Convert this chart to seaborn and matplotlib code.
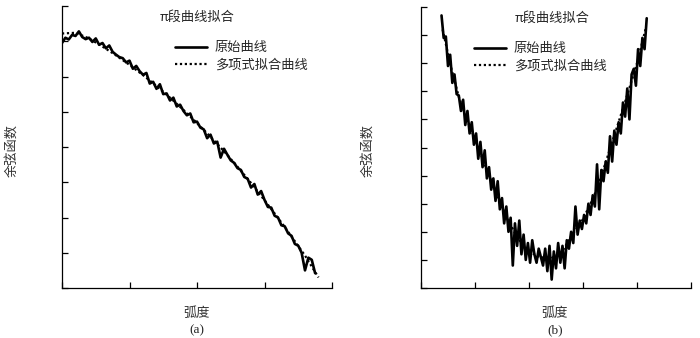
import numpy as np
import pandas as pd
import matplotlib
matplotlib.use("Agg")
import matplotlib.pyplot as plt
import seaborn as sns

# ---------------- data ----------------
title_text = "π段曲线拟合"
legend_raw = "原始曲线"
legend_fit = "多项式拟合曲线"
ylabel_text = "余弦函数"
xlabel_text = "弧度"
panel_labels = ["(a)", "(b)"]

# panel (a)
a_raw_x = np.linspace(0.0, 3.75, 76)
a_raw_y = [6.95, 7.10, 7.05, 7.18, 7.15, 7.28, 7.12, 7.06, 7.10, 6.98,
           7.08, 6.90, 6.95, 6.80, 6.88, 6.70, 6.62, 6.55, 6.52, 6.40,
           6.45, 6.22, 6.30, 6.15, 6.05, 6.10, 5.80, 5.85, 5.65, 5.78,
           5.50, 5.52, 5.32, 5.40, 5.15, 5.20, 5.02, 4.90, 4.95, 4.70,
           4.72, 4.55, 4.50, 4.25, 4.35, 4.10, 4.15, 3.70, 3.95, 3.78,
           3.62, 3.55, 3.40, 3.35, 3.15, 3.10, 2.85, 2.95, 2.65, 2.75,
           2.50, 2.30, 2.28, 2.05, 2.00, 1.78, 1.75, 1.55, 1.48, 1.25,
           1.20, 1.00, 0.50, 0.86, 0.80, 0.42]
a_fit_x = [0.0, 0.2, 0.4, 0.6, 0.8, 1.0, 1.2, 1.4, 1.6, 1.8, 2.0,
           2.2, 2.4, 2.6, 2.8, 3.0, 3.2, 3.4, 3.6, 3.8]
a_fit_y = [7.22, 7.24, 7.08, 6.85, 6.60, 6.33, 6.04, 5.73, 5.40, 5.05, 4.68,
           4.29, 3.88, 3.44, 2.98, 2.49, 1.99, 1.46, 0.92, 0.30]

# panel (b)
b_raw_x = np.linspace(0.38, 4.18, 96)
b_raw_y = [9.7, 8.9, 8.95, 7.9, 8.3, 7.3, 7.6, 6.9, 6.85, 6.3,
           6.7, 5.8, 6.3, 5.5, 5.9, 5.1, 5.5, 4.6, 5.2, 4.3,
           4.9, 3.9, 4.3, 3.5, 3.9, 3.1, 3.8, 2.8, 3.2, 2.3,
           2.9, 2.0, 2.5, 0.8, 2.3, 1.5, 2.4, 1.2, 1.9, 1.0,
           1.6, 0.9, 1.7, 1.2, 0.9, 1.4, 1.1, 0.8, 1.4, 0.6,
           1.5, 0.3, 1.3, 0.7, 1.6, 0.9, 1.5, 0.7, 1.7, 1.4,
           2.0, 1.6, 2.9, 1.9, 2.4, 2.1, 2.6, 2.3, 3.0, 2.6,
           3.3, 2.9, 4.4, 2.8, 4.2, 3.8, 4.5, 4.1, 5.4, 4.5,
           5.6, 5.1, 5.9, 5.5, 6.6, 6.1, 7.1, 6.0, 7.6, 7.8,
           7.2, 8.5, 7.9, 8.9, 8.5, 9.6]
b_fit_x = [0.40, 0.55, 0.70, 0.85, 1.00, 1.20, 1.40, 1.60, 1.80, 2.00, 2.20,
           2.40, 2.60, 2.80, 3.00, 3.20, 3.40, 3.60, 3.80, 4.00, 4.17]
b_fit_y = [9.2, 7.9, 6.8, 6.0, 5.3, 4.3, 3.35, 2.45, 1.75, 1.30, 1.10,
           1.05, 1.25, 1.90, 2.45, 3.25, 4.35, 5.55, 6.75, 8.0, 9.3]

# ---------------- style ----------------
sns.set_theme(style="ticks")
plt.rcParams["font.family"] = ["Noto Sans CJK SC", "DejaVu Sans"]

W, H = 700, 338
fig = plt.figure(figsize=(W / 100, H / 100), dpi=100)
fig.patch.set_facecolor("white")

def px_axes(left, top, right, bottom):
    return fig.add_axes([left / W, 1 - bottom / H, (right - left) / W, (bottom - top) / H])

panels = [
    dict(box=(62, 6, 332, 288), raw=(a_raw_x, a_raw_y), fit=(a_fit_x, a_fit_y),
         xmax=4, ymax=8, title_x=0.50, leg_x=0.42, ylab_x=12, cx=197),
    dict(box=(421, 7, 691, 288), raw=(b_raw_x, b_raw_y), fit=(b_fit_x, b_fit_y),
         xmax=5, ymax=10, title_x=0.486, leg_x=0.197, ylab_x=368, cx=555),
]

for i, p in enumerate(panels):
    ax = px_axes(*p["box"])
    ax.set_facecolor("white")
    raw_df = pd.DataFrame({"x": p["raw"][0], "y": p["raw"][1]})
    fit_df = pd.DataFrame({"x": p["fit"][0], "y": p["fit"][1]})
    sns.lineplot(data=raw_df, x="x", y="y", ax=ax, color="black", lw=1.9,
                 label=legend_raw, sort=False)
    sns.lineplot(data=fit_df, x="x", y="y", ax=ax, color="black", lw=1.6,
                 linestyle=(0, (1, 1.2)), label=legend_fit, sort=False)
    ax.set_xlim(0, p["xmax"])
    ax.set_ylim(0, p["ymax"])
    ax.set_xticks(range(0, p["xmax"] + 1))
    ax.set_yticks(range(0, p["ymax"] + 1))
    ax.tick_params(direction="in", length=4.5, width=0.9, labelbottom=False,
                   labelleft=False, colors="black")
    for s in ["top", "right"]:
        ax.spines[s].set_visible(False)
    for s in ["left", "bottom"]:
        ax.spines[s].set_linewidth(0.9)
        ax.spines[s].set_color("black")
    ax.set_xlabel("")
    ax.set_ylabel("")
    ax.text(p["title_x"], 0.96, title_text, transform=ax.transAxes,
            ha="center", va="center", fontsize=9.5,
            family=["Noto Sans CJK SC", "DejaVu Sans"])
    leg = ax.legend(loc="upper left", bbox_to_anchor=(p["leg_x"], 0.875),
                    frameon=False, borderaxespad=0, borderpad=0,
                    handlelength=2.4, handletextpad=0.6, labelspacing=0.35,
                    prop={"family": "Noto Sans CJK SC", "size": 9.5})
    fig.text(p["ylab_x"] / W, 1 - 150 / H, ylabel_text, rotation=90,
             ha="center", va="center", fontsize=9.5, color="#333333")
    fig.text(p["cx"] / W, 1 - 313 / H, xlabel_text, ha="center", va="center",
             fontsize=9.5, color="#333333")
    fig.text(p["cx"] / W, 1 - 330 / H, panel_labels[i], ha="center", va="center",
             fontsize=9.5, family="Liberation Serif")

fig.savefig("out.png", dpi=100)
